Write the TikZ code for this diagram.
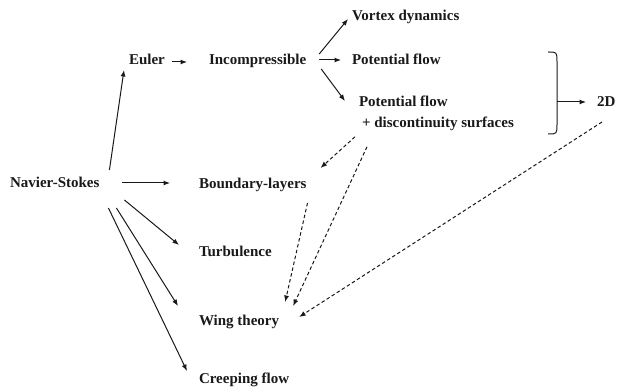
\documentclass[tikz,border=0pt]{standalone}
\usepackage{fontspec}
\setmainfont{Liberation Serif}
\usetikzlibrary{arrows.meta}
\begin{document}
\begin{tikzpicture}[x=1pt,y=-1pt,
  lbl/.style={inner sep=0pt,outer sep=0pt,anchor=base west,font=\fontsize{15}{21}\selectfont\bfseries,text=black!90},
  arr/.style={-{Latex[length=6.5pt,width=5pt]},line width=1pt,black!90},
  darr/.style={arr,dash pattern=on 3.5pt off 2.5pt}]
\useasboundingbox (0,0) rectangle (619,387);
\node[lbl] (ns) at (10,188) {Navier-Stokes};
\node[lbl] (euler) at (129,65) {Euler};
\node[lbl] (inc) at (209,65) {Incompressible};
\node[lbl] (vortex) at (352,21) {Vortex dynamics};
\node[lbl] (pf) at (352,65) {Potential flow};
\node[lbl,anchor=north west,align=left] (pfd) at (359,96) {Potential flow\\\hspace*{3pt}+ discontinuity surfaces};
\node[lbl] (twod) at (597,107) {2D};
\node[lbl] (bl) at (199,189) {Boundary-layers};
\node[lbl] (turb) at (199,257) {Turbulence};
\node[lbl] (wing) at (199,326) {Wing theory};
\node[lbl] (creep) at (199,384) {Creeping flow};
% solid arrows
\draw[arr] ([shift={(10,-18)}]ns.base east) -- ([shift={(-5,5)}]euler.base west);
\draw[arr] ([shift={(7,-3)}]euler.base east) -- ([shift={(-22,-3)}]inc.base west);
\draw[arr] ([shift={(23,-5)}]ns.base east) -- ([shift={(-29,-6)}]bl.base west);
\draw[arr] ([shift={(25,12)}]ns.base east) -- ([shift={(-20,-12)}]turb.base west);
\draw[arr] ([shift={(17,20)}]ns.base east) -- ([shift={(-21,-20)}]wing.base west);
\draw[arr] ([shift={(9,20)}]ns.base east) -- ([shift={(-12,-13)}]creep.base west);
\draw[arr] ([shift={(13,-11)}]inc.base east) -- ([shift={(-4,-2)}]vortex.base west);
\draw[arr] ([shift={(13,-5)}]inc.base east) -- ([shift={(-11,-5)}]pf.base west);
\draw[arr] ([shift={(15,4)}]inc.base east) -- ([shift={(-14,5)}]pfd.north west);
% brace
\draw[line width=1pt,black!90] (548,52) .. controls (557,52) .. (557,62) -- (557,124) .. controls (557,134) .. (548,134);
\coordinate (bracemid) at (557,102);
\draw[arr] (bracemid) -- ([shift={(-11,-5)}]twod.base west);
% dashed arrows
\draw[darr] ([shift={(-4,6)}]pfd.south west) -- ([shift={(14,-21)}]bl.base east);
\draw[darr] ([shift={(8,16)}]pfd.south west) -- ([shift={(14,-20)}]wing.base east);
\draw[darr] ([shift={(1,14)}]bl.base east) -- ([shift={(6,-24)}]wing.base east);
\draw[darr] ([shift={(5,15)}]twod.base west) -- ([shift={(20,-9)}]wing.base east);
\end{tikzpicture}
\end{document}
